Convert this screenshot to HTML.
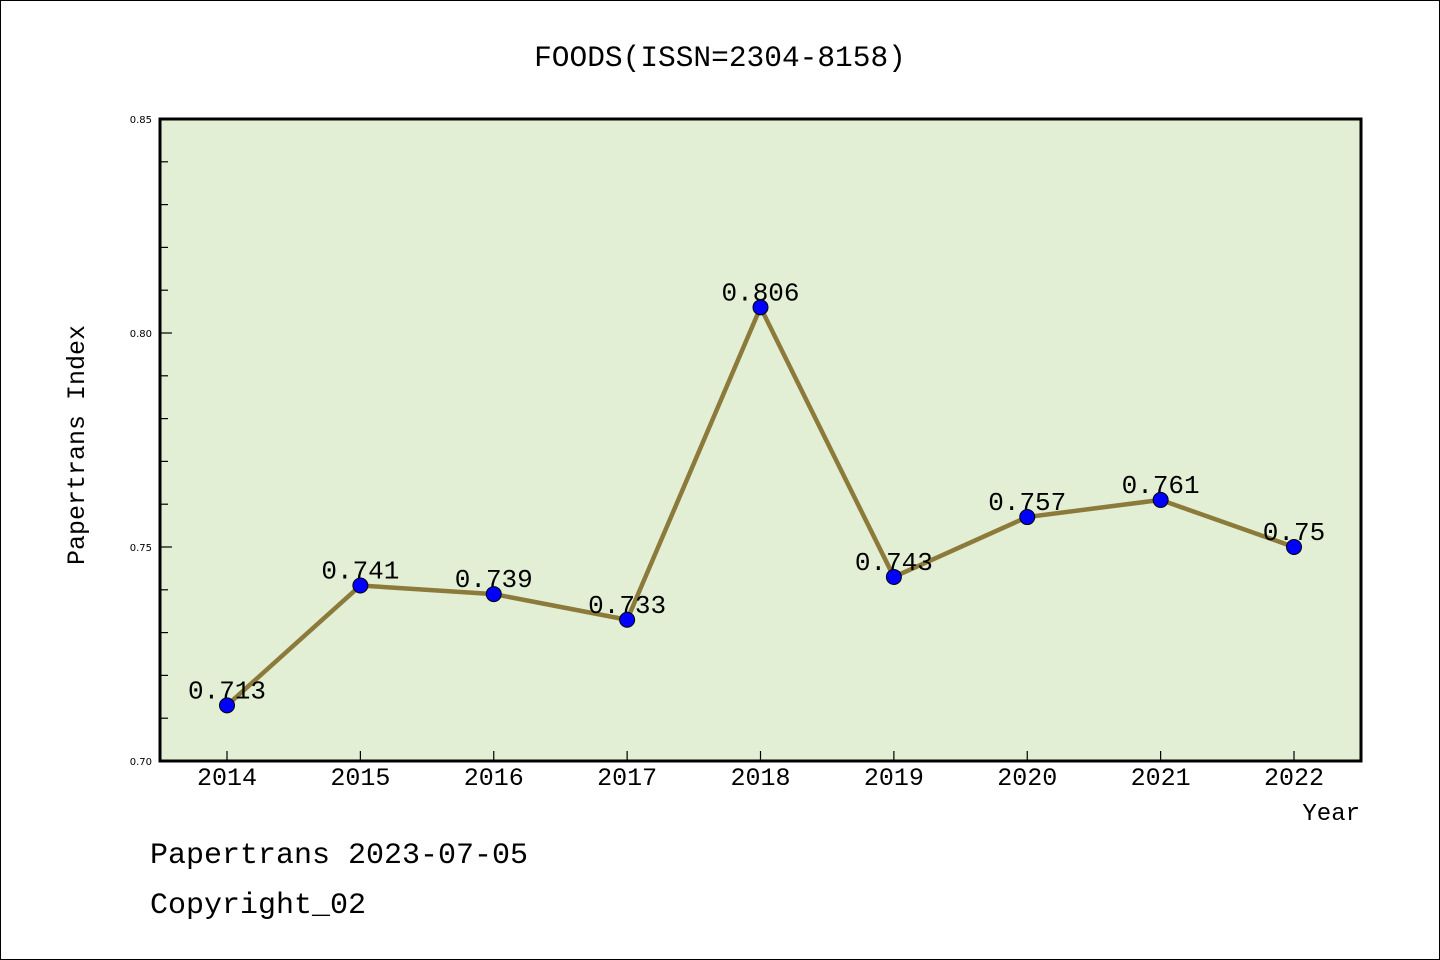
<!DOCTYPE html>
<html><head><meta charset="utf-8"><style>
body{margin:0;background:#fff}
svg{display:block}
text{font-family:"Liberation Mono",monospace}
</style></head><body>
<svg id="chart" width="1440" height="960" xmlns="http://www.w3.org/2000/svg">
<rect x="0.5" y="0.5" width="1439" height="959" fill="#fff" stroke="#000"/>
<text x="720" y="66" text-anchor="middle" font-size="29.5">FOODS(ISSN=2304-8158)</text>
<rect x="160" y="119" width="1201" height="642" fill="#e2efd5"/>
<g id="axes"></g>
<g id="series"></g>
<rect x="160" y="119" width="1201" height="642" fill="none" stroke="#000" stroke-width="3"/>
<text x="84" y="445" transform="rotate(-90 84 445)" text-anchor="middle" font-size="25">Papertrans Index</text>
<text x="1360" y="820" text-anchor="end" font-size="24">Year</text>
<text x="150" y="863" font-size="30">Papertrans 2023-07-05</text>
<text x="150" y="913" font-size="30">Copyright_02</text>
</svg>
<script>
const years=["2014","2015","2016","2017","2018","2019","2020","2021","2022"];
const values=[0.713,0.741,0.739,0.733,0.806,0.743,0.757,0.761,0.75];
const labels=["0.713","0.741","0.739","0.733","0.806","0.743","0.757","0.761","0.75"];
const yTicks=["0.70","0.75","0.80","0.85"];
const NS="http://www.w3.org/2000/svg";
const X0=227,X1=1294,Y0=761,Y1=119,VMIN=0.70,VMAX=0.85;
function xs(i){return X0+(X1-X0)*i/(years.length-1);}
function ys(v){return Y0-(v-VMIN)/(VMAX-VMIN)*(Y0-Y1);}
function mk(t,a,p){const e=document.createElementNS(NS,t);for(const k in a)e.setAttribute(k,a[k]);p.appendChild(e);return e;}
const ax=document.getElementById('axes'),sr=document.getElementById('series');
for(let k=0;k<=15;k++){const v=VMIN+k*0.01;const y=ys(v);const major=k%5===0;
 const l=mk('line',{x1:160,x2:160+(major?12:8),y1:y,y2:y,stroke:'#000','stroke-width':1.2},ax);
 
 }
yTicks.forEach(t=>{const e=mk('text',{x:152,y:ys(parseFloat(t))+4,'text-anchor':'end','font-size':10,style:'font-family:"DejaVu Sans",sans-serif'},ax);e.textContent=t;
 
 });
years.forEach((yr,i)=>{const x=xs(i);
 const l=mk('line',{x1:x,x2:x,y1:761,y2:751,stroke:'#000','stroke-width':1.2},ax);
 
 
 const t=mk('text',{x:x,y:785,'text-anchor':'middle','font-size':25},ax);t.textContent=yr;
 
 });
const pl=mk('polyline',{points:values.map((v,i)=>xs(i)+','+ys(v)).join(' '),fill:'none',stroke:'#8b7a3a','stroke-width':4.5},sr);


values.forEach((v,i)=>{const c=mk('circle',{cx:xs(i),cy:ys(v),r:7.5,fill:'#0000ff',stroke:'#000','stroke-width':1},sr);
 
 
 const t=mk('text',{x:xs(i),y:ys(v)-7,'text-anchor':'middle','font-size':26},sr);t.textContent=labels[i];
 
 });
</script>
</body></html>
